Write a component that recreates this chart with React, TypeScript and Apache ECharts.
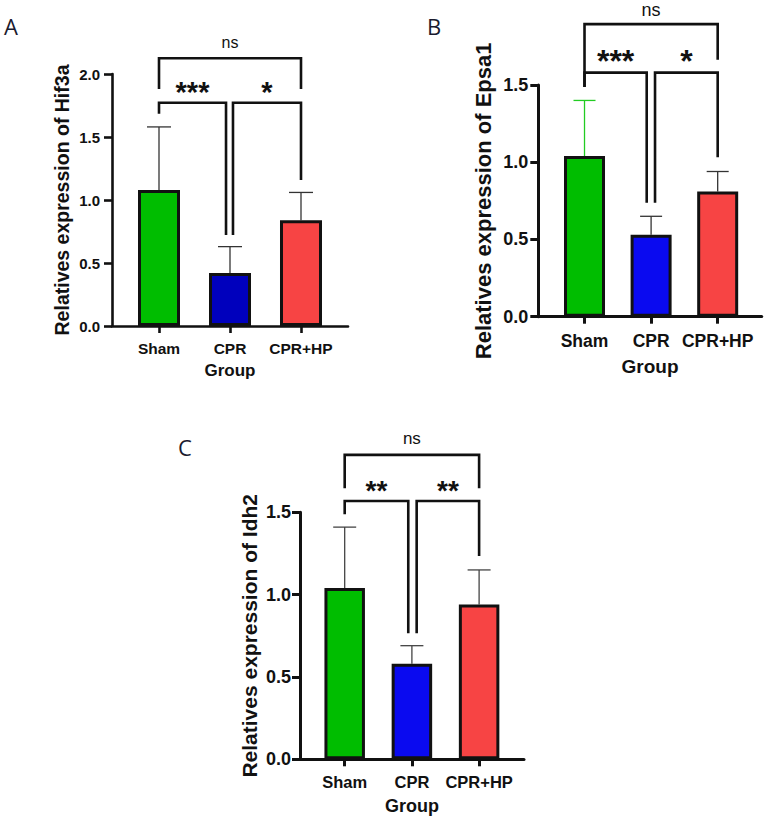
import React, { useEffect, useRef } from "react";
import * as echarts from "echarts";

// Groups shared by every panel
const categories = ["Sham", "CPR", "CPR+HP"];

// Hif3a relative expression (mean, SD)
const hif3aMean = [1.08, 0.42, 0.84];
const hif3aSd = [0.5, 0.21, 0.22];

// Epsa1 relative expression (mean, SD)
const epsa1Mean = [1.04, 0.53, 0.81];
const epsa1Sd = [0.36, 0.12, 0.13];

// Idh2 relative expression (mean, SD)
const idh2Mean = [1.04, 0.58, 0.94];
const idh2Sd = [0.37, 0.11, 0.21];

// Y axis tick settings per panel
const hif3aTicks = { max: 2.0, interval: 0.5 };
const epsa1Ticks = { max: 1.5, interval: 0.5 };
const idh2Ticks = { max: 1.5, interval: 0.5 };

// Significance labels: [Sham vs CPR, CPR vs CPR+HP, Sham vs CPR+HP]
const hif3aSig = ["***", "*", "ns"];
const epsa1Sig = ["***", "*", "ns"];
const idh2Sig = ["**", "**", "ns"];

// Bracket geometry in axis units: [xFrom, xTo, yBar, yLeftEnd, yRightEnd]
const hif3aBrackets = [
  [0, 0.944, 1.772, 1.685, 0.722],
  [1.042, 2, 1.772, 0.722, 1.159],
  [0, 2, 2.125, 1.88, 1.88],
];
const epsa1Brackets = [
  [0, 0.934, 1.58, 1.487, 0.738],
  [1.059, 2, 1.58, 0.738, 1.032],
  [0, 2, 1.894, 1.487, 1.663],
];
const idh2Brackets = [
  [0, 0.946, 1.569, 1.488, 0.765],
  [1.071, 2, 1.569, 0.765, 1.235],
  [0, 2, 1.849, 1.646, 1.646],
];

const FONT = "'Liberation Sans', Arial, Helvetica, sans-serif";
const INK = "#111111";

type Panel = {
  letter: string;
  letterPos: [number, number];
  gene: string;
  mean: number[];
  sd: number[];
  ticks: { max: number; interval: number };
  sig: string[];
  brackets: number[][];
  grid: { left: number; top: number; width: number; height: number };
  xRange: [number, number];
  colors: string[];
  errColors: string[];
  barWidth: number;
  capHalf: number;
  tickFont: number;
  catFont: number;
  titleFont: number;
  groupFont: number;
  yNameGap: number;
  xNameGap: number;
  yLabelMargin: number;
  xLabelMargin: number;
  nsFont: number;
  starFont: number;
  axisWidth: number;
};

const panels: Panel[] = [
  {
    letter: "A",
    letterPos: [4, 30],
    gene: "Hif3a",
    mean: hif3aMean,
    sd: hif3aSd,
    ticks: hif3aTicks,
    sig: hif3aSig,
    brackets: hif3aBrackets,
    grid: { left: 112, top: 74, width: 236, height: 252 },
    xRange: [-0.662, 2.662],
    colors: ["#00bd00", "#0000bd", "#f74444"],
    errColors: ["#333333", "#333333", "#333333"],
    barWidth: 42,
    capHalf: 12,
    tickFont: 15,
    catFont: 15.5,
    titleFont: 19.5,
    groupFont: 17,
    yNameGap: 40,
    xNameGap: 36,
    yLabelMargin: 12,
    xLabelMargin: 14,
    nsFont: 16,
    starFont: 29,
    axisWidth: 2.6,
  },
  {
    letter: "B",
    letterPos: [427, 30],
    gene: "Epsa1",
    mean: epsa1Mean,
    sd: epsa1Sd,
    ticks: epsa1Ticks,
    sig: epsa1Sig,
    brackets: epsa1Brackets,
    grid: { left: 538.3, top: 85, width: 223.4, height: 231.7 },
    xRange: [-0.694, 2.661],
    colors: ["#00bd00", "#0a0af0", "#f74444"],
    errColors: ["#22cc22", "#333333", "#333333"],
    barWidth: 41,
    capHalf: 11,
    tickFont: 18,
    catFont: 17.5,
    titleFont: 22,
    groupFont: 19,
    yNameGap: 44,
    xNameGap: 40,
    yLabelMargin: 10,
    xLabelMargin: 15,
    nsFont: 18,
    starFont: 32,
    axisWidth: 3,
  },
  {
    letter: "C",
    letterPos: [178, 451],
    gene: "Idh2",
    mean: idh2Mean,
    sd: idh2Sd,
    ticks: idh2Ticks,
    sig: idh2Sig,
    brackets: idh2Brackets,
    grid: { left: 300, top: 512.3, width: 224, height: 247 },
    xRange: [-0.665, 2.668],
    colors: ["#00bd00", "#0a0af0", "#f74444"],
    errColors: ["#444444", "#444444", "#444444"],
    barWidth: 40.5,
    capHalf: 11.5,
    tickFont: 18,
    catFont: 16.5,
    titleFont: 21,
    groupFont: 18,
    yNameGap: 40,
    xNameGap: 38,
    yLabelMargin: 9,
    xLabelMargin: 14,
    nsFont: 17,
    starFont: 28,
    axisWidth: 3,
  },
];

function buildOption() {
  const grid: any[] = [];
  const xAxis: any[] = [];
  const yAxis: any[] = [];
  const series: any[] = [];
  const graphic: any[] = [];

  panels.forEach((p, k) => {
    grid.push({ ...p.grid, containLabel: false });

    xAxis.push({
      type: "value",
      gridIndex: k,
      min: p.xRange[0],
      max: p.xRange[1],
      name: "Group",
      nameLocation: "middle",
      nameGap: p.xNameGap,
      nameTextStyle: { fontFamily: FONT, fontWeight: "bold", fontSize: p.groupFont, color: INK },
      splitLine: { show: false },
      axisLine: { show: true, onZero: false, lineStyle: { color: INK, width: p.axisWidth } },
      axisTick: {
        show: true,
        customValues: [0, 1, 2],
        length: 7,
        inside: false,
        lineStyle: { color: INK, width: p.axisWidth },
      },
      axisLabel: {
        customValues: [0, 1, 2],
        formatter: (v: number) => categories[Math.round(v)] ?? "",
        margin: p.xLabelMargin,
        fontFamily: FONT,
        fontWeight: "bold",
        fontSize: p.catFont,
        color: INK,
      },
    });

    yAxis.push({
      type: "value",
      gridIndex: k,
      min: 0,
      max: p.ticks.max,
      interval: p.ticks.interval,
      name: `Relatives expression of ${p.gene}`,
      nameLocation: "middle",
      nameRotate: 90,
      nameGap: p.yNameGap,
      nameTextStyle: { fontFamily: FONT, fontWeight: "bold", fontSize: p.titleFont, color: INK },
      splitLine: { show: false },
      axisLine: { show: true, onZero: false, lineStyle: { color: INK, width: p.axisWidth } },
      axisTick: { show: true, length: 8, lineStyle: { color: INK, width: p.axisWidth } },
      axisLabel: {
        formatter: (v: number) => v.toFixed(1),
        margin: p.yLabelMargin,
        fontFamily: FONT,
        fontWeight: "bold",
        fontSize: p.tickFont,
        color: INK,
      },
    });

    // error bars (upper SD only), drawn beneath the bars
    series.push({
      type: "custom",
      xAxisIndex: k,
      yAxisIndex: k,
      z: 1,
      clip: false,
      silent: true,
      data: p.mean.map((m, i) => [i, m, m + p.sd[i]]),
      encode: { x: 0, y: [1, 2] },
      renderItem: (params: any, api: any) => {
        const x = api.value(0);
        const lo = api.coord([x, api.value(1)]);
        const hi = api.coord([x, api.value(2)]);
        const stroke = p.errColors[params.dataIndex];
        const style = { stroke, lineWidth: 1.3 };
        return {
          type: "group",
          children: [
            { type: "line", shape: { x1: lo[0], y1: lo[1], x2: hi[0], y2: hi[1] }, style },
            { type: "line", shape: { x1: hi[0] - p.capHalf, y1: hi[1], x2: hi[0] + p.capHalf, y2: hi[1] }, style },
          ],
        };
      },
    });

    series.push({
      type: "bar",
      xAxisIndex: k,
      yAxisIndex: k,
      z: 2,
      barWidth: p.barWidth,
      data: p.mean.map((m, i) => ({
        value: [i, m],
        itemStyle: { color: p.colors[i], borderColor: INK, borderWidth: 3 },
      })),
    });

    // comparison brackets with significance marks
    series.push({
      type: "custom",
      xAxisIndex: k,
      yAxisIndex: k,
      z: 3,
      clip: false,
      silent: true,
      data: p.brackets,
      encode: { x: [0, 1], y: [2, 3, 4] },
      renderItem: (params: any, api: any) => {
        const a = api.coord([api.value(0), api.value(3)]);
        const b = api.coord([api.value(0), api.value(2)]);
        const c = api.coord([api.value(1), api.value(2)]);
        const d = api.coord([api.value(1), api.value(4)]);
        const label = p.sig[params.dataIndex];
        const isNs = label === "ns";
        // keep the label box inside the canvas
        const nsBottom = Math.max(b[1] - 8, p.nsFont + 1);
        return {
          type: "group",
          children: [
            {
              type: "polyline",
              shape: { points: [a, b, c, d] },
              style: { stroke: INK, lineWidth: 2.6, fill: null, lineJoin: "miter" },
            },
            {
              type: "text",
              style: {
                text: label,
                x: (b[0] + c[0]) / 2,
                y: isNs ? nsBottom : b[1] + p.starFont * 0.14,
                align: "center",
                verticalAlign: "bottom",
                fontFamily: FONT,
                fontWeight: isNs ? "normal" : "bold",
                fontSize: isNs ? p.nsFont : p.starFont,
                fill: INK,
              },
            },
          ],
        };
      },
    });

    graphic.push({
      type: "text",
      left: p.letterPos[0],
      top: p.letterPos[1] - 15,
      style: {
        text: p.letter,
        fontFamily: "'Open Sans', 'Noto Sans', sans-serif",
        fontSize: 22,
        fill: "#1a1a2e",
      },
    });
  });

  return {
    animation: false,
    backgroundColor: "#ffffff",
    grid,
    xAxis,
    yAxis,
    series,
    graphic,
  };
}

export default function App() {
  const ref = useRef<HTMLDivElement>(null);

  useEffect(() => {
    if (!ref.current) return;
    const chart = echarts.init(ref.current, null, { renderer: "svg" });
    chart.setOption(buildOption() as any);
    return () => chart.dispose();
  }, []);

  return (
    <div
      ref={ref}
      style={{ position: "fixed", left: 0, top: 0, width: 767, height: 821, background: "#fff" }}
    />
  );
}
